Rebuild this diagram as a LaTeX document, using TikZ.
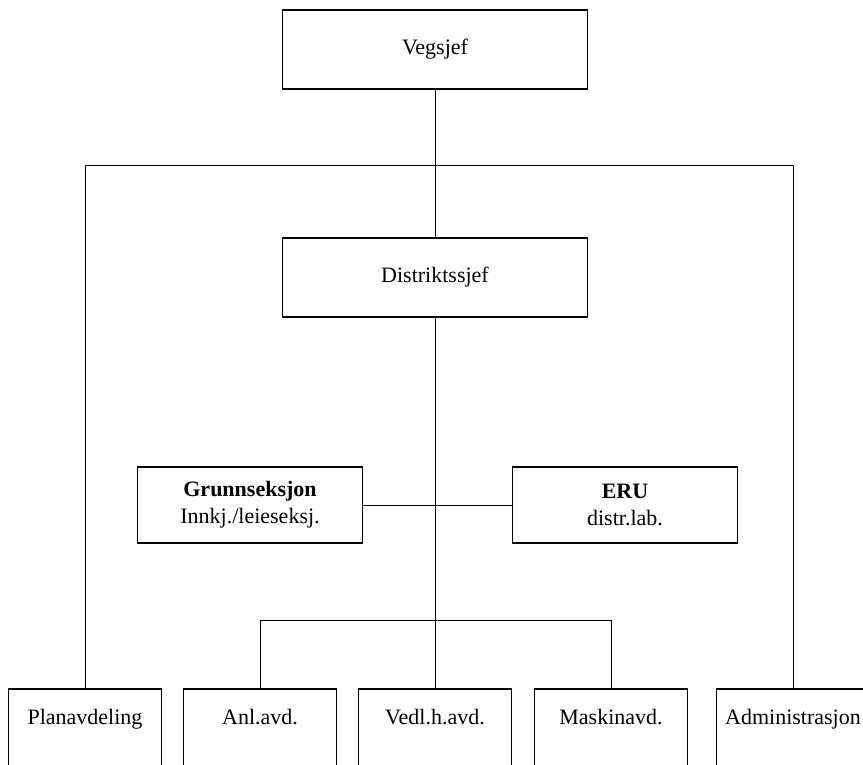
\documentclass[tikz,border=0pt]{standalone}
\usepackage{fontspec}
\setmainfont{Liberation Serif}
\usepackage{tikz}
\tikzset{
	chief/.style={draw,line width=1.6pt,minimum width=305pt,minimum height=79pt},
	staff/.style={draw,line width=1.6pt,minimum width=225pt,minimum height=76pt,align=center},
	dept/.style={draw,line width=1.6pt,minimum width=153pt,anchor=north,inner ysep=21pt,text height=15pt,text depth=50pt},
	link/.style={line width=0.8pt}
}

\begin{document}
\begin{tikzpicture}[x=1pt,y=-1pt,font=\fontsize{22}{27}\selectfont]
						\clip (0,0) rectangle (863,765);
						\node [chief] (veg) at (435,49.5) {Vegsjef};
						\node [chief] (dist) at (435,277.5) {Distriktssjef};
						\node [staff] (grunn) at (250,505) {\textbf{Grunnseksjon}\\Innkj./leieseksj.};
						\node [staff] (eru) at (625,505) {\textbf{ERU}\\distr.lab.};
						\node [dept] (plan) at (85,688) {Planavdeling};
						\node [dept] (anl) at (260,688) {Anl.avd.};
						\node [dept] (vedl) at (435,688) {Vedl.h.avd.};
						\node [dept] (maskin) at (611,688) {Maskinavd.};
						\node [dept] (adm) at (793,688) {Administrasjon};
						\coordinate (topbar) at (435,165);
						\coordinate (lowbar) at (435,620);
						
						\draw [link] (veg) -- (dist);
						\draw [link] (plan.north) -- (plan.north |- topbar) -- (adm.north |- topbar) -- (adm.north);
						\draw [link] (dist) -- (vedl);
						\draw [link] (grunn) -- (eru);
						\draw [link] (anl.north) -- (anl.north |- lowbar) -- (maskin.north |- lowbar) -- (maskin.north);
					\end{tikzpicture}
\end{document}
